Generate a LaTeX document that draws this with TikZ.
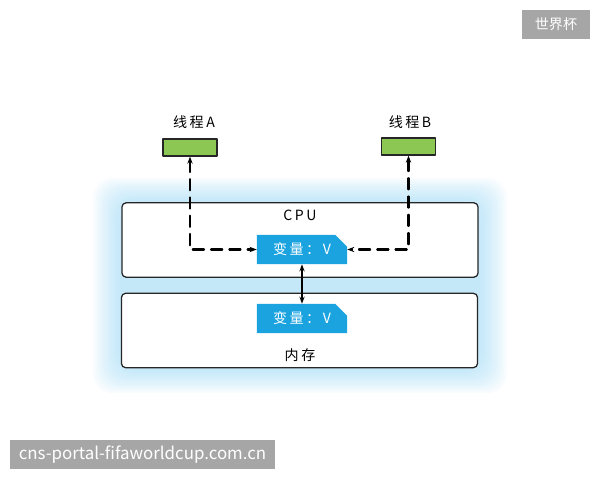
\documentclass[tikz,border=0pt]{standalone}
\usepackage{fontspec}
\setmainfont{Noto Sans CJK SC}
\newfontfamily\widefont[LetterSpace=18]{Noto Sans CJK SC}
\usetikzlibrary{shapes.misc,arrows.meta}

\definecolor{varblue}{HTML}{1BA3E0}
\definecolor{thgreen}{HTML}{8DC753}
\definecolor{glowblue}{HTML}{8FD3F4}
\definecolor{markgray}{HTML}{A6A6A6}

\tikzset{
  panel/.style={draw=black!85, line width=0.9pt, rounded corners=3pt, fill=white,
    minimum width=8.9cm, minimum height=1.86cm, inner sep=0pt},
  varbox/.style={chamfered rectangle, chamfered rectangle corners=north east,
    chamfered rectangle xsep=5pt, fill=varblue, text=white,
    minimum width=2.25cm, minimum height=0.73cm, inner sep=0pt},
  thread/.style={draw=black!85, line width=1pt, fill=thgreen,
    minimum width=1.35cm, minimum height=0.42cm, inner sep=0pt},
  link/.style={dashed, dash pattern=on 8pt off 5pt, line width=1.5pt, {Stealth[length=5pt]}-{Stealth[length=5pt]}},
  wmark/.style={fill=markgray, text=white, inner sep=0pt, font=\rmfamily}
}

\begin{document}
\begin{tikzpicture}[line cap=round, line join=round, x=0.025cm, y=-0.025cm, font=\widefont\normalsize]

  % 画布 600x480
  \useasboundingbox (0,0) rectangle (600,480);

  % 外围蓝色光晕
  \foreach \g in {1,...,12}{
    \fill[glowblue, opacity=0.06, rounded corners=14pt]
      (122-2.4*\g,203-2.1*\g) rectangle (478+2.4*\g,368+2.1*\g);
  }

  % CPU 与 内存
  \node[panel] (cpu) at (300,240) {};
  \node[panel] (mem) at (299.5,330.5) {};
  \node (cpulab) at (300,215) {CPU};
  \node (memlab) at (300,355) {内存};

  % 变量 V
  \node[varbox] (cpuvar) at (302,249.5) {变量：V};
  \node[varbox] (memvar) at (302,318.5) {变量：V};

  % 线程 A / B
  \node (labA) at (194,122) {线程A};
  \node (labB) at (410,122) {线程B};
  \node[thread] (thA) at (190,147.5) {};
  \node[thread] (thB) at (408.5,146.5) {};

  % 读写连线
  \draw[link] (thA.south) |- (cpuvar.west);
  \draw[link] (thB.south) |- (cpuvar.east);
  \draw[line width=1.5pt, {Stealth[length=5pt]}-{Stealth[length=5pt]}] (cpuvar.south) -- (memvar.north);

  % 水印
  \node[wmark, minimum width=1.7cm, minimum height=0.73cm] (wmtop) at (556,24.5) {\normalsize 世界杯};
  \node[wmark, minimum width=6.62cm, minimum height=0.73cm] (wmbot) at (142.5,454.5) {\large cns-portal-fifaworldcup.com.cn};

\end{tikzpicture}
\end{document}
